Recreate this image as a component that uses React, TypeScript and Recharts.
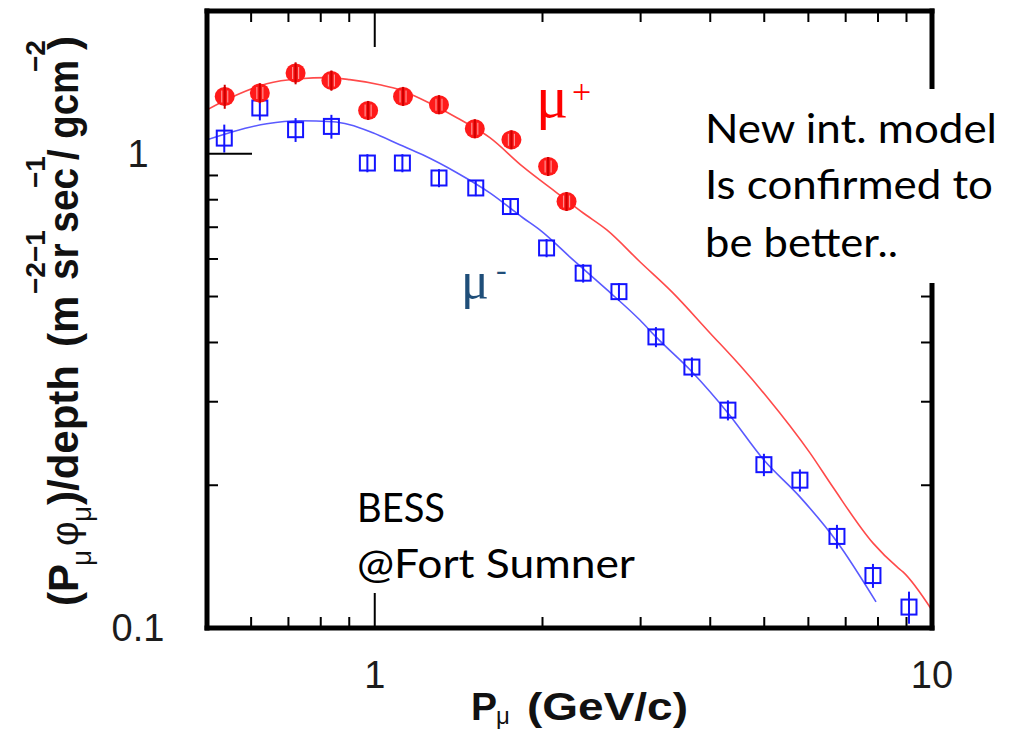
import React from 'react';
import { ComposedChart, Line, Scatter, ErrorBar, XAxis, YAxis } from 'recharts';

// mu+ measurements (momentum GeV/c, flux per depth, error)
const muPlusP = [0.538, 0.622, 0.721, 0.836, 0.973, 1.124, 1.304, 1.512, 1.759, 2.047, 2.209];
const muPlusFlux = [1.321, 1.343, 1.48, 1.428, 1.234, 1.321, 1.269, 1.129, 1.07, 0.94, 0.793];
const muPlusErr = [0.077, 0.065, 0.079, 0.07, 0.036, 0.05, 0.05, 0.044, 0.04, 0.035, 0.03];

// mu- measurements
const muMinusP = [0.537, 0.622, 0.721, 0.836, 0.97, 1.121, 1.304, 1.518, 1.752, 2.034, 2.366, 2.743, 3.196, 3.708, 4.303, 4.993, 5.794, 6.752, 7.835, 9.093];
const muMinusFlux = [1.079, 1.249, 1.124, 1.142, 0.956, 0.956, 0.889, 0.847, 0.774, 0.633, 0.56, 0.512, 0.411, 0.355, 0.288, 0.221, 0.205, 0.156, 0.129, 0.1107];
const muMinusErr = [0.073, 0.073, 0.065, 0.066, 0.042, 0.042, 0.039, 0.033, 0.03, 0.028, 0.025, 0.022, 0.02, 0.017, 0.014, 0.012, 0.011, 0.009, 0.0075, 0.0086];

// model predictions
const plusModelP = [0.5, 0.556, 0.64, 0.733, 0.82, 0.902, 1.021, 1.109, 1.219, 1.404, 1.609, 1.844, 2.122, 2.363, 2.609, 2.991, 3.428, 3.995, 4.521, 5.056, 6.039, 6.643, 7.838, 8.655, 8.87, 10];
const plusModelFlux = [1.238, 1.319, 1.405, 1.439, 1.447, 1.433, 1.398, 1.365, 1.3, 1.191, 1.081, 0.939, 0.827, 0.751, 0.691, 0.592, 0.509, 0.419, 0.358, 0.307, 0.234, 0.198, 0.151, 0.1345, 0.1313, 0.109];
const minusModelP = [0.5, 0.556, 0.64, 0.733, 0.841, 0.902, 0.992, 1.109, 1.219, 1.404, 1.609, 1.844, 1.978, 2.267, 2.609, 2.991, 3.196, 3.708, 4.303, 4.993, 5.794, 6.752, 7.935];
const minusModelFlux = [1.07, 1.113, 1.157, 1.174, 1.168, 1.151, 1.107, 1.045, 0.995, 0.912, 0.827, 0.733, 0.691, 0.598, 0.517, 0.446, 0.411, 0.347, 0.284, 0.226, 0.189, 0.152, 0.1135];

const xTicks = [0.6, 0.7, 0.8, 0.9, 1, 2, 3, 4, 5, 6, 7, 8, 9, 10];
const yTicks = [0.1, 0.2, 0.3, 0.4, 0.5, 0.6, 0.7, 0.8, 0.9, 1];
const xLabels = [1, 10];
const yLabels = [0.1, 1];

const zip = (p: number[], v: number[], e?: number[]) =>
  p.map((x, i) => ({ p: x, v: v[i], e: e ? e[i] : 0 }));

const plusPts = zip(muPlusP, muPlusFlux, muPlusErr);
const minusPts = zip(muMinusP, muMinusFlux, muMinusErr);
const plusModel = zip(plusModelP, plusModelFlux);
const minusModel = zip(minusModelP, minusModelFlux);

const frame = { stroke: '#000', strokeWidth: 5, strokeLinecap: 'square' as const };
const tickFont = { fontFamily: '"Liberation Sans", Arial, sans-serif', fontSize: 38, fill: '#1c1c1c' };

const BottomTick = ({ x, y, payload }: any) => {
  const v = payload.value;
  const major = xLabels.includes(v);
  return (
    <g>
      {v < 10 && <line x1={x} y1={y} x2={x} y2={y - (major ? 35 : 11)} stroke="#000" strokeWidth={2} />}
      {major && <text x={x} y={y + 60} textAnchor="middle" {...tickFont}>{v}</text>}
    </g>
  );
};

const TopTick = ({ x, y, payload }: any) => {
  const v = payload.value;
  if (v >= 10) return null;
  return <line x1={x} y1={y} x2={x} y2={y + (v === 1 ? 36 : 11)} stroke="#000" strokeWidth={2} />;
};

const LeftTick = ({ x, y, payload }: any) => {
  const v = payload.value;
  return (
    <g>
      {v > 0.1 && <line x1={x} y1={y} x2={x + (v === 1 ? 45 : 11)} y2={y} stroke="#000" strokeWidth={2} />}
      {yLabels.includes(v) && <text x={x - 69} y={y + 13} textAnchor="middle" {...tickFont}>{v}</text>}
    </g>
  );
};

const RightTick = ({ x, y, payload }: any) => {
  const v = payload.value;
  if (v <= 0.1) return null;
  return <line x1={x} y1={y} x2={x - (v === 1 ? 45 : 11)} y2={y} stroke="#000" strokeWidth={2} />;
};

const RedDot = ({ cx, cy }: any) => (
  <g>
    <ellipse cx={cx} cy={cy} rx={10} ry={9.5} fill="#ff1a1a" />
    <line x1={cx - 3} y1={cy - 6} x2={cx - 3} y2={cy + 6} stroke="#ff9090" strokeWidth={1.2} />
    <line x1={cx + 3} y1={cy - 6} x2={cx + 3} y2={cy + 6} stroke="#ff9090" strokeWidth={1.2} />
    <line x1={cx} y1={cy - 9.5} x2={cx} y2={cy + 9.5} stroke="#d00000" strokeWidth={2.2} />
  </g>
);

const BlueSquare = ({ cx, cy }: any) => (
  <rect x={cx - 7.5} y={cy - 7.5} width={15} height={15} fill="none" stroke="#1414ff" strokeWidth={2} />
);

const XTitle = () => (
  <g fontFamily='"Liberation Sans", Arial, sans-serif' fill="#111">
    <text x={471} y={720} fontSize={39} fontWeight="bold">P</text>
    <text x={496} y={724} fontSize={24}>μ</text>
    <text x={527} y={720} fontSize={38} fontWeight="bold" textLength={161} lengthAdjust="spacingAndGlyphs">(GeV/c)</text>
  </g>
);

// rotated title: x = -pageY, y = offset from baseline
const YTitle = () => {
  const big = { fontSize: 42, fontWeight: 'bold' as const };
  const sup = { fontSize: 28, fontWeight: 'bold' as const };
  return (
    <g transform="translate(78, 0) rotate(-90)" fontFamily='"Liberation Sans", Arial, sans-serif' fill="#111">
      <text x={-606} y={0} {...big}>(P</text>
      <text x={-566} y={13} fontSize={28}>μ</text>
      <text x={-546} y={0} fontSize={38}>φ</text>
      <text x={-522} y={13} fontSize={28}>μ</text>
      <text x={-505} y={0} {...big}>)/depth</text>
      <text x={-347} y={0} {...big}>(m</text>
      <text x={-294} y={-33} {...sup}>−2−1</text>
      <text x={-280} y={0} {...big} textLength={112} lengthAdjust="spacingAndGlyphs">sr sec</text>
      <text x={-188} y={-33} {...sup}>−1</text>
      <text x={-160} y={0} {...big} textLength={100} lengthAdjust="spacingAndGlyphs">/ gcm</text>
      <text x={-72} y={-33} {...sup}>−2</text>
      <text x={-50} y={0} {...big}>)</text>
    </g>
  );
};

const noteFont = { fontFamily: 'Lato, "Open Sans", sans-serif', fontSize: 40, fill: '#000' };
const greek = '"Liberation Serif", "DejaVu Serif", serif';

export default function App() {
  return (
    <div style={{ position: 'fixed', left: 0, top: 0, width: 1016, height: 733, background: '#fff' }}>
      <ComposedChart width={1016} height={733} margin={{ top: 10, right: 83, bottom: 0, left: 0 }}>
        <XAxis
          xAxisId="b" dataKey="p" type="number" scale="log" domain={[0.5, 10]} allowDataOverflow
          ticks={xTicks} interval={0} tick={<BottomTick />} tickLine={false} tickSize={0} tickMargin={0}
          height={105} axisLine={frame} label={<XTitle />}
        />
        <XAxis
          xAxisId="t" orientation="top" dataKey="p" type="number" scale="log" domain={[0.5, 10]} allowDataOverflow
          ticks={xTicks} interval={0} tick={<TopTick />} tickLine={false} tickSize={0} tickMargin={0}
          height={1} axisLine={frame}
        />
        <YAxis
          yAxisId="l" dataKey="v" type="number" scale="log" domain={[0.1, 2]} allowDataOverflow
          ticks={yTicks} interval={0} tick={<LeftTick />} tickLine={false} tickSize={0} tickMargin={0}
          width={207} axisLine={frame} label={<YTitle />}
        />
        <YAxis
          yAxisId="r" orientation="right" dataKey="v" type="number" scale="log" domain={[0.1, 2]} allowDataOverflow
          ticks={yTicks} interval={0} tick={<RightTick />} tickLine={false} tickSize={0} tickMargin={0}
          width={1} axisLine={frame}
        />
        <Line
          data={plusModel} xAxisId="b" yAxisId="l" dataKey="v" type="monotone"
          stroke="#ff4a4a" strokeWidth={1.6} dot={false} isAnimationActive={false}
        />
        <Line
          data={minusModel} xAxisId="b" yAxisId="l" dataKey="v" type="monotone"
          stroke="#5a5aff" strokeWidth={1.6} dot={false} isAnimationActive={false}
        />
        <Scatter
          data={minusPts} xAxisId="b" yAxisId="l" dataKey="v"
          shape={(p: any) => <BlueSquare {...p} />} isAnimationActive={false}
        >
          <ErrorBar dataKey="e" direction="y" width={0} stroke="#1414ff" strokeWidth={2} isAnimationActive={false} />
        </Scatter>
        <Scatter
          data={plusPts} xAxisId="b" yAxisId="l" dataKey="v"
          shape={(p: any) => <RedDot {...p} />} isAnimationActive={false}
        >
          <ErrorBar dataKey="e" direction="y" width={0} stroke="#cc0000" strokeWidth={2} isAnimationActive={false} />
        </Scatter>
      </ComposedChart>

      <svg width={1016} height={733} style={{ position: 'absolute', left: 0, top: 0, pointerEvents: 'none' }}>
        <rect x={690} y={89} width={326} height={194} fill="#fff" />
        <text x={705} y={143} {...noteFont} textLength={292} lengthAdjust="spacingAndGlyphs">New int. model</text>
        <text x={705} y={199} {...noteFont} textLength={288} lengthAdjust="spacingAndGlyphs">Is confirmed to</text>
        <text x={705} y={257} {...noteFont} textLength={193} lengthAdjust="spacingAndGlyphs">be better..</text>

        <text x={357} y={522} {...noteFont} textLength={88} lengthAdjust="spacingAndGlyphs">BESS</text>
        <text x={357} y={578} {...noteFont} textLength={278} lengthAdjust="spacingAndGlyphs">@Fort Sumner</text>

        <text x={536} y={117} fontFamily={greek} fontSize={60} fill="#ff0000">μ</text>
        <text x={572} y={103} fontFamily={greek} fontSize={34} fill="#ff0000">+</text>
        <text x={461} y={298} fontFamily={greek} fontSize={52} fill="#1f4e79">μ</text>
        <text x={496} y={280} fontFamily={greek} fontSize={32} fill="#1f4e79">-</text>
      </svg>
    </div>
  );
}
